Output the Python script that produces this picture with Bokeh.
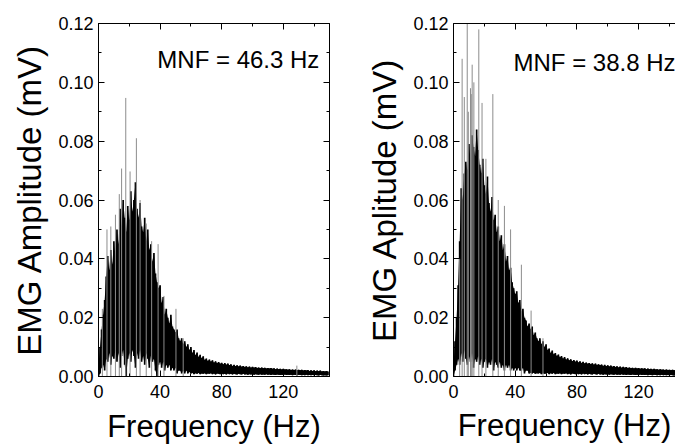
from bokeh.plotting import figure
from bokeh.layouts import row
from bokeh.models import FixedTicker, NumeralTickFormatter, LinearAxis, Label, Range1d, ColumnDataSource
from bokeh.embed import file_html
from bokeh.resources import INLINE

# ---------------- data ----------------
FREQ = list(range(150))  # Hz bins

LEFT_UPPER = [
    0.004, 0.010, 0.016, 0.021, 0.026, 0.034, 0.041, 0.036, 0.043, 0.038,
    0.046, 0.041, 0.050, 0.045, 0.057, 0.051, 0.060, 0.054, 0.049, 0.058,
    0.053, 0.063, 0.056, 0.060, 0.066, 0.057, 0.054, 0.059, 0.051, 0.049,
    0.054, 0.046, 0.050, 0.043, 0.045, 0.039, 0.042, 0.035, 0.032, 0.030,
    0.031, 0.025, 0.027, 0.021, 0.023, 0.020, 0.018, 0.021, 0.017, 0.016,
    0.015, 0.016, 0.013, 0.012, 0.013, 0.011, 0.012, 0.010, 0.011, 0.009,
    0.010, 0.008, 0.009, 0.0072, 0.0082, 0.0066, 0.0074, 0.0062, 0.0069, 0.0056,
    0.0061, 0.0053, 0.0058, 0.0050, 0.0055, 0.0047, 0.0052, 0.0045, 0.0049, 0.0043,
    0.0047, 0.0041, 0.0046, 0.0040, 0.0044, 0.0038, 0.0042, 0.0036, 0.0040, 0.0035,
    0.0038, 0.0034, 0.0037, 0.0033, 0.0036, 0.0032, 0.0035, 0.0031, 0.0034, 0.0030,
    0.0033, 0.0030, 0.0032, 0.0029, 0.0031, 0.0028, 0.0031, 0.0028, 0.0030, 0.0027,
    0.0029, 0.0027, 0.0029, 0.0026, 0.0028, 0.0025, 0.0027, 0.0025, 0.0026, 0.0024,
    0.0026, 0.0024, 0.0025, 0.0023, 0.0025, 0.0022, 0.0024, 0.0022, 0.0024, 0.0021,
    0.0023, 0.0021, 0.0023, 0.0020, 0.0022, 0.0020, 0.0022, 0.0019, 0.0021, 0.0019,
    0.0021, 0.0018, 0.0020, 0.0018, 0.0020, 0.0017, 0.0019, 0.0017, 0.0019, 0.0017,
]
LEFT_LOWER = [
    0.000, 0.001, 0.003, 0.004, 0.002, 0.006, 0.005, 0.008, 0.004, 0.007,
    0.006, 0.009, 0.005, 0.008, 0.003, 0.007, 0.009, 0.004, 0.000, 0.006,
    0.008, 0.005, 0.009, 0.007, 0.003, 0.008, 0.006, 0.009, 0.005, 0.007,
    0.004, 0.008, 0.006, 0.003, 0.007, 0.005, 0.006, 0.002, 0.000, 0.004,
    0.005, 0.003, 0.005, 0.002, 0.004, 0.003, 0.004, 0.002, 0.003, 0.002,
    0.003, 0.001, 0.002, 0.002, 0.001, 0.002, 0.001, 0.002, 0.001, 0.0015,
    0.0010, 0.0012, 0.0008, 0.0011, 0.0009, 0.0012, 0.0008, 0.0010, 0.0009, 0.0011,
    0.0008, 0.0010, 0.0009, 0.0011, 0.0008, 0.0010, 0.0007, 0.0010, 0.0009, 0.0008,
    0.0010, 0.0008, 0.0009, 0.0007, 0.0010, 0.0008, 0.0009, 0.0007, 0.0009, 0.0008,
    0.0007, 0.0009, 0.0008, 0.0007, 0.0009, 0.0007, 0.0008, 0.0006, 0.0008, 0.0007,
    0.0008, 0.0006, 0.0008, 0.0007, 0.0006, 0.0008, 0.0006, 0.0007, 0.0006, 0.0008,
    0.0006, 0.0007, 0.0005, 0.0007, 0.0006, 0.0005, 0.0007, 0.0006, 0.0005, 0.0006,
    0.0005, 0.0007, 0.0005, 0.0006, 0.0005, 0.0006, 0.0004, 0.0006, 0.0005, 0.0004,
    0.0006, 0.0005, 0.0004, 0.0005, 0.0004, 0.0006, 0.0004, 0.0005, 0.0004, 0.0005,
    0.0004, 0.0005, 0.0004, 0.0003, 0.0005, 0.0004, 0.0003, 0.0004, 0.0003, 0.0004,
]
LEFT_SPIKE_F = [2.5, 5.5, 8.0, 11.0, 13.5, 15.0, 17.7, 20.5, 24.6, 27.0, 31.0, 34.5, 38.7, 42.5, 50.3, 55.0, 128.8]
LEFT_SPIKE_A = [0.023, 0.050, 0.051, 0.055, 0.062, 0.0707, 0.0947, 0.0697, 0.081, 0.060, 0.052, 0.046, 0.045, 0.0274, 0.023, 0.013, 0.0037]

RIGHT_UPPER = [
    0.004, 0.012, 0.020, 0.031, 0.046, 0.064, 0.060, 0.069, 0.073, 0.070,
    0.079, 0.074, 0.082, 0.078, 0.075, 0.084, 0.077, 0.072, 0.069, 0.074,
    0.065, 0.062, 0.068, 0.059, 0.056, 0.061, 0.053, 0.055, 0.049, 0.051,
    0.046, 0.048, 0.043, 0.045, 0.039, 0.041, 0.036, 0.037, 0.032, 0.030,
    0.028, 0.029, 0.025, 0.026, 0.022, 0.023, 0.020, 0.019, 0.017, 0.018,
    0.016, 0.017, 0.014, 0.015, 0.013, 0.012, 0.013, 0.011, 0.012, 0.010,
    0.011, 0.0090, 0.0095, 0.0080, 0.0088, 0.0075, 0.0080, 0.0070, 0.0075, 0.0065,
    0.0070, 0.0060, 0.0066, 0.0057, 0.0062, 0.0054, 0.0059, 0.0052, 0.0056, 0.0050,
    0.0054, 0.0048, 0.0052, 0.0046, 0.0050, 0.0044, 0.0048, 0.0043, 0.0046, 0.0042,
    0.0045, 0.0040, 0.0044, 0.0039, 0.0042, 0.0038, 0.0041, 0.0036, 0.0040, 0.0035,
    0.0038, 0.0034, 0.0037, 0.0033, 0.0036, 0.0032, 0.0035, 0.0031, 0.0034, 0.0030,
    0.0033, 0.0030, 0.0032, 0.0029, 0.0031, 0.0028, 0.0030, 0.0027, 0.0030, 0.0027,
    0.0029, 0.0026, 0.0028, 0.0026, 0.0028, 0.0025, 0.0027, 0.0025, 0.0026, 0.0024,
    0.0026, 0.0024, 0.0025, 0.0023, 0.0025, 0.0023, 0.0024, 0.0022, 0.0024, 0.0022,
    0.0023, 0.0021, 0.0023, 0.0021, 0.0022, 0.0020, 0.0022, 0.0020, 0.0021, 0.0020,
]
RIGHT_LOWER = [
    0.000, 0.002, 0.004, 0.006, 0.004, 0.008, 0.005, 0.009, 0.006, 0.004,
    0.007, 0.005, 0.008, 0.003, 0.006, 0.005, 0.007, 0.004, 0.006, 0.003,
    0.005, 0.006, 0.003, 0.005, 0.004, 0.006, 0.002, 0.005, 0.004, 0.003,
    0.005, 0.003, 0.004, 0.002, 0.004, 0.003, 0.004, 0.002, 0.003, 0.002,
    0.003, 0.002, 0.003, 0.002, 0.002, 0.003, 0.001, 0.002, 0.002, 0.001,
    0.0012, 0.0010, 0.0013, 0.0009, 0.0011, 0.0010, 0.0012, 0.0008, 0.0011, 0.0009,
    0.0010, 0.0012, 0.0008, 0.0011, 0.0009, 0.0012, 0.0008, 0.0010, 0.0009, 0.0011,
    0.0008, 0.0010, 0.0009, 0.0011, 0.0008, 0.0010, 0.0007, 0.0010, 0.0009, 0.0008,
    0.0010, 0.0008, 0.0009, 0.0007, 0.0010, 0.0008, 0.0009, 0.0007, 0.0009, 0.0008,
    0.0007, 0.0009, 0.0008, 0.0007, 0.0009, 0.0007, 0.0008, 0.0006, 0.0008, 0.0007,
    0.0008, 0.0006, 0.0008, 0.0007, 0.0006, 0.0008, 0.0006, 0.0007, 0.0006, 0.0008,
    0.0006, 0.0007, 0.0005, 0.0007, 0.0006, 0.0005, 0.0007, 0.0006, 0.0005, 0.0006,
    0.0005, 0.0007, 0.0005, 0.0006, 0.0005, 0.0006, 0.0004, 0.0006, 0.0005, 0.0004,
    0.0006, 0.0005, 0.0004, 0.0005, 0.0004, 0.0006, 0.0004, 0.0005, 0.0004, 0.0005,
    0.0004, 0.0005, 0.0004, 0.0003, 0.0005, 0.0004, 0.0003, 0.0004, 0.0003, 0.0004,
]
RIGHT_SPIKE_F = [4.0, 5.6, 7.0, 8.9, 9.6, 11.0, 11.5, 12.1, 13.2, 16.4, 18.5, 21.0, 25.5, 29.0, 33.0, 37.0, 44.0, 50.3, 58.0]
RIGHT_SPIKE_A = [0.040, 0.108, 0.095, 0.125, 0.090, 0.098, 0.096, 0.106, 0.100, 0.118, 0.093, 0.074, 0.096, 0.060, 0.058, 0.050, 0.038, 0.0224, 0.013]

X_TICKS = [0, 40, 80, 120]
X_MINOR = [20, 60, 100, 140]
Y_TICKS = [0.00, 0.02, 0.04, 0.06, 0.08, 0.10, 0.12]
Y_MINOR = [0.01, 0.03, 0.05, 0.07, 0.09, 0.11]

X_LABEL = "Frequency (Hz)"
LEFT_YLABEL = "EMG Amplitude (mV)"
RIGHT_YLABEL = "EMG Aplitude (mV)"
LEFT_NOTE = "MNF = 46.3 Hz"
RIGHT_NOTE = "MNF = 38.8 Hz"

FONT = "Liberation Sans"


def style_axis(ax, ticks, show_labels=True):
    ax.axis_line_color = "black"
    ax.axis_line_width = 1
    ax.major_tick_in = 6
    ax.major_tick_out = 0
    ax.minor_tick_in = 3
    ax.minor_tick_out = 0
    ax.major_tick_line_color = "black"
    ax.minor_tick_line_color = "black"
    ax.major_label_text_font = FONT
    ax.major_label_text_color = "black"
    ax.axis_label_text_font = FONT
    ax.axis_label_text_font_style = "normal"
    ax.axis_label_text_color = "black"
    if not show_labels:
        ax.major_label_overrides = {t: "" for t in ticks}
        ax.major_label_standoff = 0


def panel(width, bl, br, bt, bb, x_end, upper, lower, sf, sa, ylabel, note, nx, ny,
          right_axis, tick_standoff, label_standoff):
    p = figure(width=width, height=446, x_range=Range1d(0, x_end), y_range=Range1d(0, 0.12),
               output_backend="svg", toolbar_location=None,
               min_border_left=bl, min_border_right=br, min_border_top=bt, min_border_bottom=bb)
    p.grid.visible = False
    p.background_fill_color = "white"
    p.border_fill_color = "white"
    p.outline_line_color = "black" if right_axis else None

    src = ColumnDataSource(dict(f=FREQ, hi=upper, lo=lower))
    p.varea(x="f", y1="lo", y2="hi", source=src, fill_color="black")
    p.segment(x0="f", y0="lo", x1="f", y1="hi", source=src, line_color="black", line_width=1.7)
    ssrc = ColumnDataSource(dict(f=sf, a=sa, z=[0.0] * len(sf)))
    p.segment(x0="f", y0="z", x1="f", y1="a", source=ssrc, line_color="#8c8c8c", line_width=1)

    xa = p.xaxis[0]
    xa.ticker = FixedTicker(ticks=X_TICKS, minor_ticks=X_MINOR)
    xa.axis_label = X_LABEL
    style_axis(xa, X_TICKS)
    xa.major_label_text_font_size = "18px"
    xa.major_label_standoff = tick_standoff
    xa.axis_label_text_font_size = "31px"
    xa.axis_label_standoff = label_standoff

    ya = p.yaxis[0]
    ya.ticker = FixedTicker(ticks=Y_TICKS, minor_ticks=Y_MINOR)
    ya.formatter = NumeralTickFormatter(format="0.00")
    ya.axis_label = ylabel
    style_axis(ya, Y_TICKS)
    ya.major_label_text_font_size = "18px"
    ya.major_label_standoff = 5
    ya.axis_label_text_font_size = "33px"
    ya.axis_label_standoff = 7

    top = LinearAxis(ticker=FixedTicker(ticks=X_TICKS, minor_ticks=X_MINOR))
    style_axis(top, X_TICKS, show_labels=False)
    p.add_layout(top, "above")
    if right_axis:
        ra = LinearAxis(ticker=FixedTicker(ticks=Y_TICKS, minor_ticks=Y_MINOR))
        style_axis(ra, Y_TICKS, show_labels=False)
        p.add_layout(ra, "right")

    p.add_layout(Label(x=nx, y=ny, text=note, text_font=FONT, text_font_size="24px",
                       text_color="black", text_baseline="alphabetic", text_align="left"))
    return p


left = panel(340, 98, 11, 21, 70, 150, LEFT_UPPER, LEFT_LOWER, LEFT_SPIKE_F, LEFT_SPIKE_A,
             LEFT_YLABEL, LEFT_NOTE, 38.2, 0.1078, True, 8, 8)
right = panel(335, 113, 0, 23, 69, 143.9, RIGHT_UPPER, RIGHT_LOWER, RIGHT_SPIKE_F, RIGHT_SPIKE_A,
              RIGHT_YLABEL, RIGHT_NOTE, 38.9, 0.1068, False, 8, 7)

layout = row(left, right, spacing=0)
open("out.html", "w").write(file_html(layout, INLINE))
